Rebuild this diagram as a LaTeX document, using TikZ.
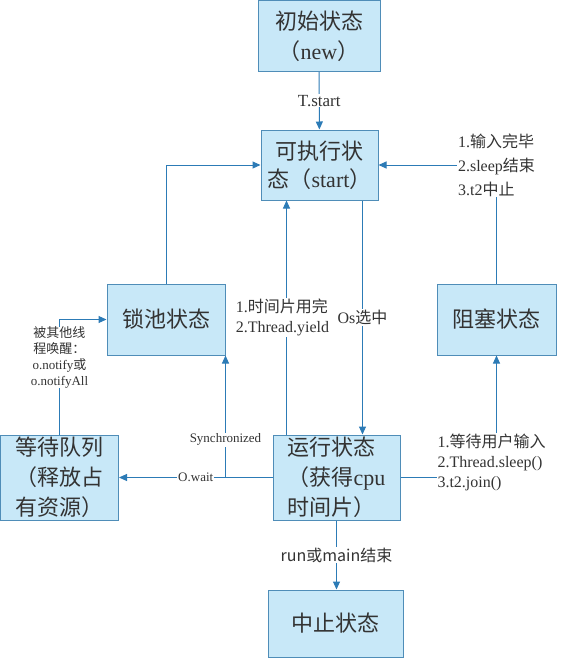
\documentclass[tikz,border=0pt]{standalone}
\usepackage{fontspec}
\setmainfont{Liberation Serif}
\newfontfamily\zhfont{Noto Sans CJK SC}
\newcommand{\zh}[1]{{\zhfont #1}}
\usetikzlibrary{positioning, arrows.meta}

\definecolor{boxfill}{HTML}{C8E8F8}
\definecolor{boxline}{HTML}{4F8DB8}
\definecolor{flowblue}{HTML}{2C7BB6}

\tikzset{
    state/.style={draw=boxline, fill=boxfill, line width=1pt, inner sep=0pt, align=center,
        text=black!80, font=\fontsize{22}{30}\selectfont},
    flow/.style={draw=flowblue, line width=1pt, -{Triangle[width=7pt,length=8pt]}},
    lbl/.style={fill=white, inner sep=1pt, text=black!80, font=\fontsize{16}{20}\selectfont},
}

\begin{document}
\begin{tikzpicture}[x=1pt, y=-1pt]
        \useasboundingbox (0,0) rectangle (576,662);
        % states
        \node[state, minimum width=122pt, minimum height=71pt] (new) at (319,36) {\zh{初始状态}\\\zh{（}new\zh{）}};
        \node[state, minimum width=117pt, minimum height=70pt, font=\fontsize{22}{28}\selectfont] (start) at (319.5,165) {\zh{可执行状}\\\zh{态（}start\zh{）}};
        \node[state, minimum width=118pt, minimum height=71pt] (lock) at (166,319.5) {\zh{锁池状态}};
        \node[state, minimum width=119pt, minimum height=71pt] (block) at (496.5,319.5) {\zh{阻塞状态}};
        \node[state, minimum width=118pt, minimum height=85pt] (wait) at (59.5,477.5) {\zh{等待队列}\\\zh{（释放占}\\\zh{有资源）}};
        \node[state, minimum width=127pt, minimum height=85pt, align=left] (run) at (336.5,477.5) {\zh{运行状态}\\\zh{（获得}cpu\\\zh{时间片）}};
        \node[state, minimum width=135pt, minimum height=67pt] (stop) at (335.5,623.5) {\zh{中止状态}};
        % transitions
        \draw[flow] (new) -- node[lbl, font=\fontsize{17}{20}\selectfont] {T.start} (start);
        \draw[flow] (lock.north) |- (start.west);
        \draw[flow] (block.north) |- node[lbl, align=left, font=\fontsize{16}{24}\selectfont] {1.\zh{输入完毕}\\2.sleep\zh{结束}\\3.t2\zh{中止}} (start.east);
        \draw[flow] ([xshift=14pt]run.north west) -- node[lbl, align=left, xshift=-4pt] {1.\zh{时间片用完}\\2.Thread.yield} ([xshift=14pt]run.north west |- start.south);
        \draw[flow] ([xshift=-16pt]start.south east) -- node[lbl] {Os\zh{选中}} ([xshift=-16pt]start.south east |- run.north);
        \draw[flow] (run.west) -- node[lbl, font=\fontsize{13}{16}\selectfont] {O.wait} (wait.east);
        \draw[flow] (lock.south east |- run.west) -- node[lbl, pos=0.31, font=\fontsize{13}{16}\selectfont] {Synchronized} (lock.south east);
        \draw[flow] (wait.north) |- node[lbl, pos=0.335, inner sep=0pt, align=center, font=\fontsize{13}{16}\selectfont] {\zh{被其他线}\\\zh{程唤醒：}\\o.notify\zh{或}\\o.notifyAll} (lock.west);
        \draw[flow] (run.east) -| node[lbl, align=left, xshift=-5pt, yshift=15pt] {1.\zh{等待用户输入}\\2.Thread.sleep()\\3.t2.join()} (block.south);
        \draw[flow] (run.south) -- node[lbl] {\zh{run或main结束}} (run.south |- stop.north);
\end{tikzpicture}
\end{document}
